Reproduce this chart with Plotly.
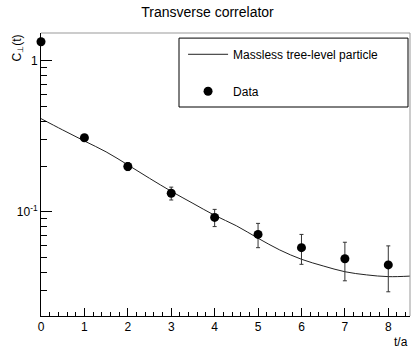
import plotly.graph_objects as go

# data
t_data = [0, 1, 2, 3, 4, 5, 6, 7, 8]
c_data = [1.34, 0.31, 0.20, 0.133, 0.092, 0.071, 0.058, 0.049, 0.0446]
c_err = [0.02, 0.008, 0.012, 0.013, 0.012, 0.013, 0.013, 0.014, 0.015]

t_curve = [0, 0.5, 1, 1.5, 2, 2.5, 3, 3.5, 4, 4.5, 5, 5.5, 6, 6.5, 7, 7.5, 8, 8.5]
c_curve = [0.415, 0.349, 0.295, 0.25, 0.205, 0.167, 0.137, 0.114, 0.095, 0.081,
           0.067, 0.056, 0.0486, 0.0439, 0.0402, 0.0383, 0.0373, 0.0376]

x_ticks = [0, 1, 2, 3, 4, 5, 6, 7, 8]
y_ticks = [0.1, 1]
y_ticktext = ["10<sup>-1</sup>", "1"]

font_name = "Liberation Sans"

fig = go.Figure()

fig.add_trace(
    go.Scatter(
        x=t_curve,
        y=c_curve,
        mode="lines",
        name="Massless tree-level particle",
        line=dict(color="#222222", width=1, shape="spline"),
        legendgroup="a",
    )
)

fig.add_trace(
    go.Scatter(
        x=t_data,
        y=c_data,
        mode="markers",
        name="Data",
        marker=dict(color="black", size=9),
        error_y=dict(type="data", array=c_err, color="#333333", thickness=1, width=2),
        cliponaxis=False,
        legendgroup="b",
    )
)

fig.update_layout(
    width=415,
    height=353,
    margin=dict(l=41, r=5, t=33, b=37),
    plot_bgcolor="white",
    paper_bgcolor="white",
    font=dict(family=font_name, size=12, color="black"),
    title=dict(
        text="Transverse correlator",
        x=0.5,
        xanchor="center",
        y=0.965,
        yanchor="middle",
        font=dict(size=14, color="black"),
    ),
    showlegend=True,
    legend=dict(
        x=0.385,
        y=0.976,
        xanchor="left",
        yanchor="top",
        bgcolor="rgba(0,0,0,0)",
        borderwidth=0,
        font=dict(size=12),
        tracegroupgap=18,
        itemwidth=40,
    ),
    xaxis=dict(
        range=[0, 8.5],
        tickvals=x_ticks,
        showline=True,
        linecolor="black",
        linewidth=1,
        ticks="inside",
        ticklen=8,
        tickcolor="black",
        showgrid=False,
        zeroline=False,
        minor=dict(dtick=0.2, ticks="inside", ticklen=4, tickcolor="black", showgrid=False),
    ),
    yaxis=dict(
        type="log",
        range=[-1.689, 0.185],
        tickvals=y_ticks,
        ticktext=y_ticktext,
        showline=True,
        linecolor="black",
        linewidth=1,
        ticks="inside",
        ticklen=11,
        tickcolor="black",
        showgrid=False,
        zeroline=False,
        minor=dict(dtick="D1", ticks="inside", ticklen=6, tickcolor="black", showgrid=False),
    ),
    shapes=[
        # frame top and right
        dict(type="line", xref="paper", yref="paper", x0=0, x1=1, y0=1, y1=1,
             line=dict(color="#999999", width=1)),
        dict(type="line", xref="paper", yref="paper", x0=1, x1=1, y0=0, y1=1,
             line=dict(color="#999999", width=1)),
        # legend box
        dict(type="rect", xref="paper", yref="paper", x0=0.374, x1=0.9946, y0=0.7385, y1=0.982,
             line=dict(color="black", width=1), fillcolor="white", layer="below"),
    ],
    annotations=[
        dict(text="t/a", xref="paper", yref="paper", x=1.0, y=-0.092,
             xanchor="right", yanchor="middle", showarrow=False, font=dict(size=12)),
        dict(text="C<sub>⊥</sub>(t)", xref="paper", yref="paper", x=-0.065, y=1.0,
             xanchor="center", yanchor="top", textangle=-90, showarrow=False, font=dict(size=12)),
    ],
)

fig.write_html("out.html", config={"displayModeBar": False},
               post_script="document.body.style.margin='0';")
